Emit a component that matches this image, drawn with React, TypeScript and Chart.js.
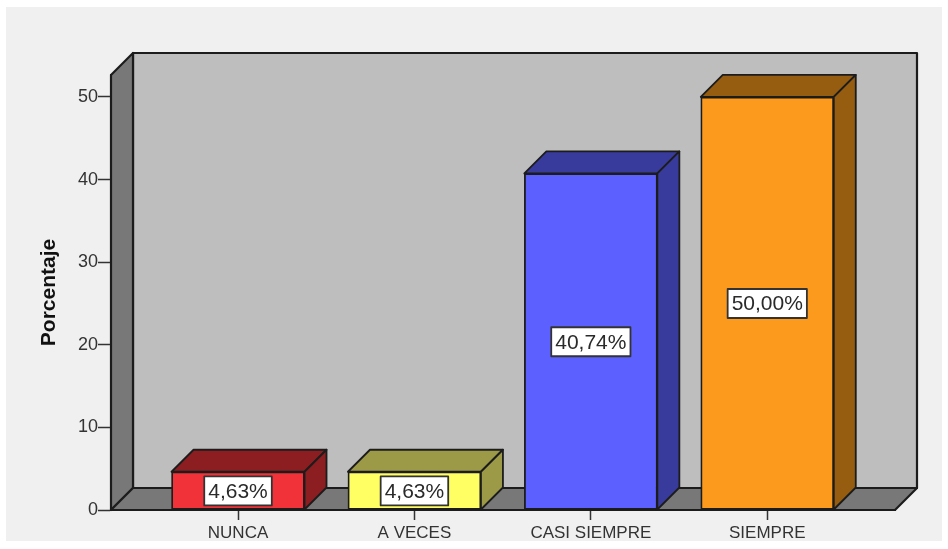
import React, { useEffect, useRef } from "react";
import { Chart, registerables } from "chart.js";

Chart.register(...registerables);

const categories = ["NUNCA", "A VECES", "CASI SIEMPRE", "SIEMPRE"];
const percentages = [4.63, 4.63, 40.74, 50.0];
const yTickValues = [0, 10, 20, 30, 40, 50];
const frontColors = ["#f23239", "#ffff63", "#5c60ff", "#fb9a1c"];
const sideColors = ["#8c1d20", "#9c9a46", "#383b9c", "#965c10"];

const DEPTH_X = 22;
const DEPTH_Y = 22;
const INK = "#1c1c1c";
const FONT = '"Liberation Sans", Arial, sans-serif';

function poly(ctx: CanvasRenderingContext2D, pts: number[][], fill: string, lw = 1.8) {
  ctx.beginPath();
  pts.forEach(([x, y], i) => (i ? ctx.lineTo(x, y) : ctx.moveTo(x, y)));
  ctx.closePath();
  ctx.fillStyle = fill;
  ctx.fill();
  ctx.lineWidth = lw;
  ctx.strokeStyle = INK;
  ctx.lineJoin = "round";
  ctx.stroke();
}

const frame3d = {
  id: "frame3d",
  beforeDraw(chart: any) {
    const { left, right, top, bottom } = chart.chartArea;
    const ctx = chart.ctx;
    ctx.save();
    poly(ctx, [[left + DEPTH_X, top - DEPTH_Y], [right + DEPTH_X, top - DEPTH_Y], [right + DEPTH_X, bottom - DEPTH_Y], [left + DEPTH_X, bottom - DEPTH_Y]], "#bebebe", 2.2);
    poly(ctx, [[left, top], [left + DEPTH_X, top - DEPTH_Y], [left + DEPTH_X, bottom - DEPTH_Y], [left, bottom]], "#787878", 2.2);
    poly(ctx, [[left, bottom], [left + DEPTH_X, bottom - DEPTH_Y], [right + DEPTH_X, bottom - DEPTH_Y], [right, bottom]], "#787878", 2.2);
    ctx.restore();
  },
  afterDatasetsDraw(chart: any) {
    const ctx = chart.ctx;
    const yScale = chart.scales.y;
    const bars = chart.getDatasetMeta(0).data;
    ctx.save();
    bars.forEach((bar: any, i: number) => {
      const l = bar.x - bar.width / 2;
      const r = bar.x + bar.width / 2;
      const t = bar.y;
      const b = bar.base;
      poly(ctx, [[l, t], [l + DEPTH_X, t - DEPTH_Y], [r + DEPTH_X, t - DEPTH_Y], [r, t]], sideColors[i]);
      poly(ctx, [[r, t], [r + DEPTH_X, t - DEPTH_Y], [r + DEPTH_X, b - DEPTH_Y], [r, b]], sideColors[i]);
    });
    bars.forEach((bar: any, i: number) => {
      const label = percentages[i].toFixed(2).replace(".", ",") + "%";
      const cy = yScale.getPixelForValue(percentages[i] / 2);
      ctx.font = `21px ${FONT}`;
      const w = ctx.measureText(label).width + 8;
      const h = 29;
      ctx.fillStyle = "#ffffff";
      ctx.strokeStyle = "#333333";
      ctx.lineWidth = 1.8;
      ctx.fillRect(bar.x - w / 2, cy - h / 2, w, h);
      ctx.strokeRect(bar.x - w / 2, cy - h / 2, w, h);
      ctx.fillStyle = "#2a2a2a";
      ctx.textAlign = "center";
      ctx.textBaseline = "middle";
      ctx.fillText(label, bar.x, cy + 1);
    });
    ctx.restore();
  },
};

export default function App() {
  const ref = useRef<HTMLCanvasElement>(null);
  useEffect(() => {
    const chart = new Chart(ref.current!, {
      type: "bar",
      data: {
        datasets: [
          {
            data: percentages.map((v, i) => ({ x: i, y: v })),
            backgroundColor: frontColors,
            borderColor: INK,
            borderWidth: 1.8,
            borderSkipped: false,
            barThickness: 133,
          },
        ],
      },
      plugins: [frame3d],
      options: {
        animation: false,
        responsive: false,
        layout: { padding: { top: 75, right: 53, left: 0, bottom: 0 } },
        plugins: { legend: { display: false }, tooltip: { enabled: false } },
        scales: {
          x: {
            type: "linear",
            offset: false,
            min: -0.72,
            max: 3.724,
            afterBuildTicks: (s: any) => {
              s.ticks = categories.map((_, i) => ({ value: i }));
            },
            afterFit: (s: any) => {
              s.height = 39;
            },
            grid: { offset: false, drawOnChartArea: false, drawTicks: true, tickLength: 10, tickColor: "#333333", tickWidth: 1.5 },
            border: { color: INK, width: 2 },
            ticks: {
              callback: (v: any) => categories[v],
              font: { family: FONT, size: 17 },
              color: "#333333",
              padding: 3,
              maxRotation: 0,
              autoSkip: false,
            },
          },
          y: {
            type: "linear",
            min: 0,
            max: 52.66,
            afterBuildTicks: (s: any) => {
              s.ticks = yTickValues.map((value) => ({ value }));
            },
            afterFit: (s: any) => {
              s.width = 111;
            },
            title: {
              display: true,
              text: "Porcentaje",
              color: "#111111",
              font: { family: FONT, size: 21, weight: "bold" },
              padding: { top: 37, bottom: 0 },
            },
            grid: { drawOnChartArea: false, drawTicks: true, tickLength: 13, tickColor: "#333333", tickWidth: 1.5 },
            border: { color: INK, width: 2 },
            ticks: {
              font: { family: FONT, size: 18 },
              color: "#333333",
              padding: 0,
            },
          },
        },
      },
    } as any);
    return () => chart.destroy();
  }, []);
  return (
    <div style={{ position: "absolute", left: 0, top: 0, width: 948, height: 549, background: "#ffffff", overflow: "hidden" }}>
      <div style={{ position: "absolute", left: 6, top: 7, width: 936, height: 534, background: "#f0f0f0" }} />
      <canvas ref={ref} width={948} height={549} style={{ position: "absolute", left: 0, top: 0, filter: "blur(0.5px)" }} />
    </div>
  );
}
